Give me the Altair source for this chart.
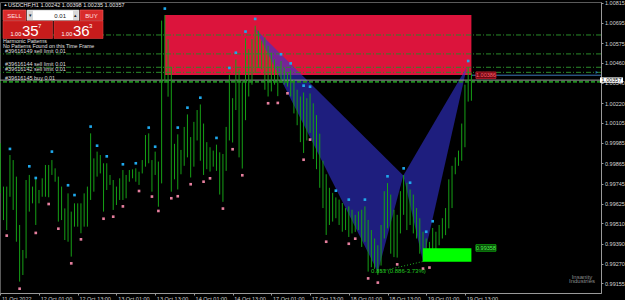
import altair as alt
import pandas as pd

FONT = "Liberation Sans"
PL, PT, PR, PB = 0, 2, 24, 7
W, H = 601, 291
XMIN, XMAX = -0.084, 186.16
YMIN, YMAX = 0.990976, 1.008191

# ---- H1 bars (index 0 = 11 Oct 13:00) ----
highs = [0.99983, 0.99727, 0.99727, 0.99914, 0.99884, 0.99786, 0.99500, 0.99352, 0.99766, 0.99796,
         0.99727, 0.99776, 0.99707, 0.99776, 0.99855, 0.99855, 0.99884, 0.99835, 0.99786, 0.99727,
         0.99598, 0.99687, 0.99579, 0.99628, 0.99628, 0.99628, 0.99687, 0.99727, 1.00042, 0.99894,
         0.99934, 0.99914, 0.99865, 0.99865, 0.99796, 0.99766, 0.99727, 0.99776, 0.99825, 0.99796,
         0.99825, 0.99829, 0.99835, 0.99815, 0.99884, 1.00032, 1.00042, 0.99884, 0.99934, 0.99875,
         1.00709, 1.00742, 1.00598, 1.00436, 0.99980, 1.00036, 0.99944, 1.00080, 1.00154, 1.00020,
         1.00110, 1.00180, 1.00213, 1.00100, 0.99990, 0.99960, 0.99940, 0.99975, 0.99930, 0.99920,
         1.00080, 1.00389, 1.00250, 1.00479, 1.00420, 1.00350, 1.00604, 1.00540, 1.00600, 1.00679,
         1.00650, 1.00590, 1.00610, 1.00560, 1.00520, 1.00480, 1.00440, 1.00470, 1.00430, 1.00400,
         1.00416, 1.00360, 1.00300, 1.00260, 1.00284, 1.00250, 1.00278, 1.00220, 1.00150, 1.00040,
         0.99880, 0.99800, 0.99720, 0.99690, 0.99663, 0.99650, 0.99630, 0.99600, 0.99610, 0.99590,
         0.99560, 0.99580, 0.99590, 0.99610, 0.99530, 0.99470, 0.99420, 0.99380, 0.99500, 0.99700,
         0.99748, 0.99680, 0.99590, 0.99560, 0.99700, 0.99795, 0.99750, 0.99710, 0.99680, 0.99600,
         0.99540, 0.99460, 0.99420, 0.99400, 0.99482, 0.99460, 0.99500, 0.99540, 0.99600, 0.99770,
         0.99850, 0.99900, 0.99940, 1.00100, 1.00330, 1.00430, 1.00398]
lows = [0.99687, 0.99529, 0.99470, 0.99667, 0.99589, 0.99401, 0.99165, 0.99204, 0.99303, 0.99579,
        0.99628, 0.99500, 0.99628, 0.99667, 0.99667, 0.99664, 0.99796, 0.99756, 0.99520, 0.99529,
        0.99411, 0.99401, 0.99313, 0.99490, 0.99490, 0.99451, 0.99490, 0.99490, 0.99648, 0.99697,
        0.99786, 0.99805, 0.99579, 0.99707, 0.99737, 0.99589, 0.99618, 0.99648, 0.99648, 0.99658,
        0.99756, 0.99776, 0.99756, 0.99737, 0.99805, 0.99845, 0.99865, 0.99697, 0.99796, 0.99608,
        0.99746, 1.00340, 1.00259, 0.99697, 0.99770, 0.99710, 0.99800, 0.99850, 0.99900, 0.99781,
        0.99845, 1.00000, 0.99880, 0.99796, 0.99830, 0.99816, 0.99845, 0.99820, 0.99680, 0.99637,
        0.99820, 1.00000, 0.99988, 1.00180, 0.99900, 0.99834, 1.00120, 1.00260, 1.00330, 1.00400,
        1.00430, 1.00420, 1.00300, 1.00260, 1.00290, 1.00330, 1.00262, 1.00340, 1.00330, 1.00319,
        1.00260, 1.00160, 1.00090, 0.99990, 0.99926, 1.00000, 1.00045, 0.99890, 0.99830, 0.99720,
        0.99600, 0.99441, 0.99500, 0.99520, 0.99540, 0.99500, 0.99460, 0.99470, 0.99429, 0.99450,
        0.99459, 0.99470, 0.99370, 0.99400, 0.99224, 0.99250, 0.99240, 0.99205, 0.99260, 0.99420,
        0.99480, 0.99330, 0.99310, 0.99307, 0.99450, 0.99560, 0.99470, 0.99500, 0.99450, 0.99420,
        0.99330, 0.99282, 0.99300, 0.99288, 0.99330, 0.99350, 0.99380, 0.99420, 0.99440, 0.99480,
        0.99600, 0.99800, 0.99850, 0.99880, 0.99960, 1.00230, 1.00235]

# ---- fractal markers ----
up_idx = [3, 9, 11, 16, 21, 23, 28, 30, 33, 38, 42, 46, 48, 51, 55, 58, 62, 67, 71, 73, 76, 79,
          87, 90, 94, 96, 104, 108, 113, 120, 125, 127, 132, 134, 145]
up_val = [0.99950, 0.99847, 0.99778, 0.99934, 0.99735, 0.99677, 1.00082, 0.99969, 0.99906, 0.99859,
          0.99865, 1.00076, 0.99963, 1.00780, 1.00076, 1.00194, 1.00253, 1.00015, 1.00429, 1.00519,
          1.00644, 1.00719, 1.00510, 1.00456, 1.00324, 1.00318, 0.99703, 0.99650, 0.99650, 0.99788,
          0.99835, 0.99750, 0.99460, 0.99522, 1.00470]
dn_idx = [2, 6, 11, 15, 18, 22, 25, 32, 35, 38, 43, 47, 49, 53, 55, 59, 63, 65, 69, 72, 75, 83,
          86, 89, 94, 96, 101, 108, 110, 114, 117, 123, 131, 133]
dn_val = [0.99437, 0.99123, 0.99453, 0.99624, 0.99478, 0.99273, 0.99415, 0.99537, 0.99549, 0.99610,
          0.99701, 0.99668, 0.99583, 0.99658, 0.99670, 0.99741, 0.99756, 0.99776, 0.99597, 0.99948,
          0.99794, 1.00220, 1.00222, 1.00279, 0.99886, 1.00005, 0.99401, 0.99389, 0.99419, 0.99184,
          0.99159, 0.99267, 0.99242, 0.99248]

# ---- harmonic pattern X A B C D ----
pat_name = ["X", "A", "B", "C", "D"]
pat_idx = [79.1, 117.0, 124.9, 131.0, 144.6]
pat_val = [1.00660, 0.99222, 0.99793, 0.99284, 1.00435]

# ---- zones ----
sell_zone = {"x1": 51.05, "x2": 146.0, "top": 1.00742, "bottom": 1.00387}
buy_zone = {"x1": 131.0, "x2": 146.0, "top": 0.99362, "bottom": 0.99283}

# ---- order / level lines ----
limit_prices = [1.00624, 1.00512, 1.00433, 1.00403]
buy_price = 1.00348
bid_price = 1.00357
prz_price = 1.00386
order_texts = ["#39616149 sell limit 0.01", "#39616144 sell limit 0.01",
               "#39616142 sell limit 0.01", "#39616145 buy 0.01"]
order_prices = [1.00512, 1.00433, 1.00403, 1.00348]

# ---- axes ----
x_tick_idx = [0, 12, 24, 36, 48, 60, 72, 84, 96, 108, 120, 132, 144]
x_labels = ["11 Oct 2022", "12 Oct 01:00", "12 Oct 13:00", "13 Oct 01:00", "13 Oct 13:00",
            "14 Oct 01:00", "14 Oct 13:00", "17 Oct 01:00", "17 Oct 13:00", "18 Oct 01:00",
            "18 Oct 13:00", "19 Oct 01:00", "19 Oct 13:00"]
y_ticks = [1.00815, 1.00695, 1.00575, 1.00460, 1.00340, 1.00220, 1.00105, 0.99985,
           0.99865, 0.99745, 0.99625, 0.99510, 0.99390, 0.99270, 0.99155]

# ================= build =================
xs = alt.Scale(domain=[XMIN, XMAX], nice=False, zero=False)
ys = alt.Scale(domain=[YMIN, YMAX], nice=False, zero=False)
x_expr = "[" + ",".join("'%s'" % s for s in x_labels) + "][round(datum.value/12)]"
X_AX = alt.Axis(values=x_tick_idx, labelExpr=x_expr, labelAlign="left", labelBaseline="top",
                labelPadding=1, labelOffset=1.2, tickSize=2, title=None, grid=False)
Y_AX = alt.Axis(orient="right", values=y_ticks, format=".5f", labelBaseline="middle",
                tickSize=2, labelPadding=1.5, title=None, grid=False)

def XX(f):
    return alt.X(f, type="quantitative", scale=xs, axis=X_AX)

def YY(f):
    return alt.Y(f, type="quantitative", scale=ys, axis=Y_AX)

bars = pd.DataFrame({"i": list(range(len(highs))), "h": highs, "l": lows})
ups = pd.DataFrame({"i": up_idx, "v": up_val})
dns = pd.DataFrame({"i": dn_idx, "v": dn_val})

P = dict(zip(pat_name, zip(pat_idx, pat_val)))
def _upper(p0, p1, xq):
    return p0[1] + (xq - p0[0]) / (p1[0] - p0[0]) * (p1[1] - p0[1])
tri = pd.DataFrame([
    {"t": 1, "i": P["X"][0], "a": P["X"][1], "b": P["X"][1]},
    {"t": 1, "i": P["A"][0], "a": _upper(P["X"], P["B"], P["A"][0]), "b": P["A"][1]},
    {"t": 1, "i": P["B"][0], "a": P["B"][1], "b": P["B"][1]},
    {"t": 2, "i": P["B"][0], "a": P["B"][1], "b": P["B"][1]},
    {"t": 2, "i": P["C"][0], "a": _upper(P["B"], P["D"], P["C"][0]), "b": P["C"][1]},
    {"t": 2, "i": P["D"][0], "a": P["D"][1], "b": P["D"][1]},
])

red_zone = alt.Chart(pd.DataFrame([sell_zone])).mark_rect(color="#dc143c").encode(
    x=XX("x1"), x2="x2:Q", y=YY("top"), y2="bottom:Q")

triangles = alt.Chart(tri).mark_area(color="#3232d2", opacity=0.6, interpolate="linear").encode(
    x=XX("i"), y=YY("a"), y2="b:Q", detail="t:N")

lim = alt.Chart(pd.DataFrame({"p": limit_prices})).mark_rule(
    color="#2a8a2a", strokeWidth=1, strokeDash=[5, 2, 1, 2]).encode(y=YY("p"))
buyl = alt.Chart(pd.DataFrame({"p": [buy_price]})).mark_rule(
    color="#1f8c1f", strokeWidth=2, strokeDash=[4, 2]).encode(y=YY("p"))
bidl = alt.Chart(pd.DataFrame({"p": [bid_price]})).mark_rule(
    color="#9a9a9a", strokeWidth=1).encode(y=YY("p"))
przl = alt.Chart(pd.DataFrame({"a": [sell_zone["x2"]], "b": [XMAX], "p": [prz_price]})).mark_rule(
    color="#3c78b4", strokeWidth=1).encode(x=XX("a"), x2="b:Q", y=YY("p"))

candles = alt.Chart(bars).mark_rule(color="#16a016", strokeWidth=1, clip=True).encode(
    x=XX("i"), y=YY("l"), y2="h:Q")

cyan = alt.Chart(ups).mark_square(color="#1fa8ec", size=7, opacity=1).encode(x=XX("i"), y=YY("v"))
pink = alt.Chart(dns).mark_square(color="#e67f9e", size=7, opacity=1).encode(x=XX("i"), y=YY("v"))

green_zone = alt.Chart(pd.DataFrame([buy_zone])).mark_rect(color="#00ff00").encode(
    x=XX("x1"), x2="x2:Q", y=YY("top"), y2="bottom:Q")

ac = pd.DataFrame({"i": [P["A"][0], P["C"][0]], "v": [P["A"][1], P["C"][1]]})
ac_line = alt.Chart(ac).mark_line(color="#22b422", strokeWidth=1, strokeDash=[1, 2]).encode(
    x=XX("i"), y=YY("v"))
ratio_txt = alt.Chart(pd.DataFrame({"i": [P["A"][0] - 2.1], "v": [P["A"][1] + 0.00004],
                                    "s": ["0.853 (0.886-3.73%)"]})).mark_text(
    align="left", baseline="middle", font=FONT, fontSize=6, color="#22c822").encode(
    x=XX("i"), y=YY("v"), text="s:N")

def tag(i1, i2, price, s, fill, stroke, tcol):
    d = pd.DataFrame({"a": [i1], "b": [i2], "m": [(i1 + i2) / 2], "p": [price], "s": [s]})
    box = alt.Chart(d).mark_rect(fill=fill, stroke=stroke, strokeWidth=0.8, height=6.5).encode(
        x=XX("a"), x2="b:Q", y=YY("p"))
    txt = alt.Chart(d).mark_text(font=FONT, fontSize=5.5, color=tcol, baseline="middle").encode(
        x=XX("m"), y=YY("p"), text="s:N")
    return [box, txt]

red_tag = tag(147.4, 153.6, 1.00386, "1.00386", "#6a0810", "#c41a30", "#ff6070")
green_tag = tag(147.4, 153.6, 0.99364, "0.99358", "#0a3a0a", "#10c010", "#4cff4c")

ord_lbl = alt.Chart(pd.DataFrame({"p": order_prices, "s": order_texts})).mark_text(
    align="left", baseline="bottom", dy=-0.3, font=FONT, fontSize=5.5, color="#dedede").encode(
    x=alt.value(5 - PL), y=YY("p"), text="s:N")

marker = alt.Chart(pd.DataFrame({"i": [184.9], "v": [1.00403]})).mark_point(
    shape="triangle-right", filled=True, color="#2a80d0", size=10).encode(x=XX("i"), y=YY("v"))

one = pd.DataFrame({"k": [0]})

def prect(x1, y1, x2, y2, fill, stroke="", sw=0.0):
    kw = {"fill": fill}
    if stroke:
        kw["stroke"] = stroke
        kw["strokeWidth"] = sw
    return alt.Chart(one).mark_rect(**kw).encode(
        x=alt.value(x1 - PL), x2=alt.value(x2 - PL), y=alt.value(y1 - PT), y2=alt.value(y2 - PT))

def ptext(x, y, s, size=5.5, color="#ffffff", align="left", baseline="middle", weight="normal"):
    return alt.Chart(one).mark_text(text=s, fontSize=size, color=color, align=align,
                                    baseline=baseline, font=FONT, fontWeight=weight).encode(
        x=alt.value(x - PL), y=alt.value(y - PT))

panel = [
    prect(3, 10, 26, 20.5, "#d92b2b", "#f06060", 0.6), ptext(14.5, 15.5, "SELL", 6, "#ffe0e0", "center"),
    prect(27, 10, 79, 20.5, "#ffffff", "#b0b0b0", 0.6),
    prect(27.5, 10.5, 33, 20, "#d8d8d8"), ptext(30.2, 15.3, "▾", 5, "#202020", "center"),
    prect(73, 10.5, 78.5, 20, "#d8d8d8"), ptext(75.7, 15.3, "▴", 5, "#202020", "center"),
    ptext(66, 15.5, "0.01", 6, "#202020", "right"),
    prect(80, 10, 103, 20.5, "#d92b2b", "#f06060", 0.6), ptext(91.5, 15.5, "BUY", 6, "#ffe0e0", "center"),
    prect(3, 21, 52.5, 38.5, "#c81c1c", "#e04040", 0.6),
    prect(54, 21, 103, 38.5, "#c81c1c", "#e04040", 0.6),
    ptext(10.5, 33.5, "1.00", 5.5, "#ffffff"), ptext(22, 31, "35", 15, "#ffffff"),
    ptext(38, 25.5, "7", 6, "#ffffff"),
    ptext(61.5, 33.5, "1.00", 5.5, "#ffffff"), ptext(73, 31, "36", 15, "#ffffff"),
    ptext(89, 25.5, "3", 6, "#ffffff"),
    ptext(3, 41, "Harmonic Patterns", 5.3, "#e0e0e0"),
    ptext(3, 45.8, "No Patterns Found on this Time Frame", 5.3, "#e0e0e0"),
    ptext(3.5, 5, "▲", 4, "#e0e0e0"),
    ptext(8, 5, "USDCHF,H1  1.00242 1.00398 1.00235 1.00357", 5.5, "#e8e8e8"),
    prect(600, 77.4, 623, 82.8, "#ffffff"), ptext(611.5, 80.2, "1.00357", 5.5, "#000000", "center"),
    ptext(582, 276.5, "Insanity", 6, "#8c8c8c", "center"),
    ptext(582, 281, "Industries", 6, "#8c8c8c", "center"),
]

chart = alt.layer(
    red_zone, triangles, lim, buyl, bidl, przl, candles, cyan, pink, green_zone,
    ac_line, ratio_txt, *red_tag, *green_tag, ord_lbl, marker, *panel
).properties(
    width=W, height=H, background="#000000",
    padding={"left": PL, "top": PT, "right": PR, "bottom": PB},
    autosize=alt.AutoSizeParams(type="none"),
).configure_view(stroke="#5a5a5a", strokeWidth=1).configure_axis(
    labelFont=FONT, labelFontSize=5.5, labelColor="#d4d4d4", tickColor="#9a9a9a",
    domainColor="#9a9a9a", labelOverlap=False, labelFlush=False,
)

chart.save("out.html", embed_options={"renderer": "svg", "actions": False})
